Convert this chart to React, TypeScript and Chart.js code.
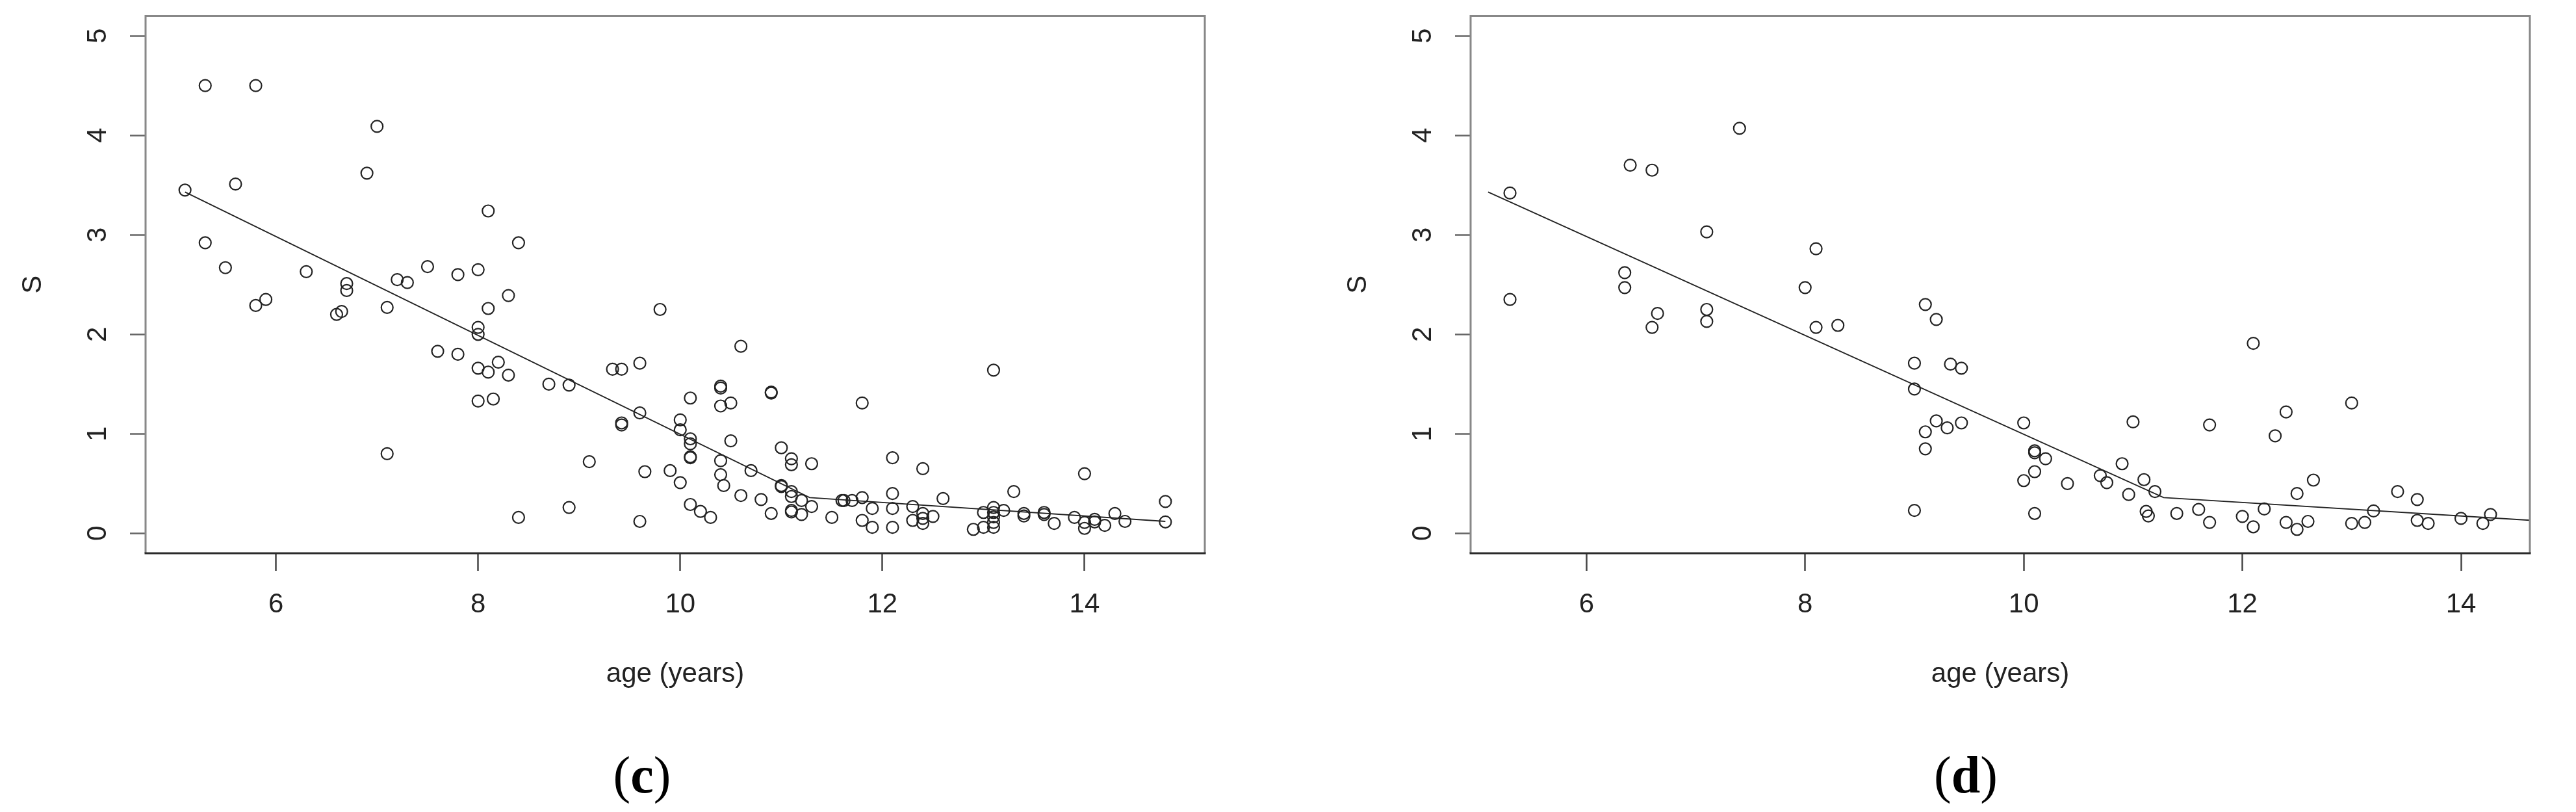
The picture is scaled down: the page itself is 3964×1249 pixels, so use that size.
import React, { useEffect, useRef } from "react";
import { Chart, registerables } from "chart.js";

Chart.register(...registerables);

// ---------- data ----------
// panel (c)
const cAge = [
  5.1, 5.3, 5.8, 7.0, 6.9, 5.6, 5.3, 5.5, 6.3, 6.7, 6.7, 7.2, 7.3, 7.5, 7.8, 8.0, 8.4, 8.1, 8.3, 8.1,
  8.0, 8.0, 5.9, 5.8, 6.6, 6.65, 7.1, 7.6, 7.8, 8.0, 8.1, 8.2, 8.3, 8.0, 8.15, 8.7, 8.9, 7.1, 8.4, 8.9,
  9.1, 9.33, 9.42, 9.6, 9.6, 9.42, 9.42, 9.65, 9.6, 9.8, 10.6, 13.1, 10.4, 10.4, 10.1, 10.4, 10.5, 10.9, 10.9, 11.8,
  10.0, 10.0, 10.1, 10.1, 10.1, 10.1, 10.5, 9.9, 10.0, 10.4, 10.7, 10.4, 10.43, 11.0, 11.1, 11.1, 11.3, 12.1, 12.4, 14.0,
  10.1, 10.2, 10.3, 10.6, 10.8, 10.9, 11.0, 11.0, 11.1, 11.1, 11.1, 11.1, 11.2, 11.2, 11.3, 11.5, 11.6, 11.62, 11.7, 11.8,
  11.8, 11.9, 11.9, 12.1, 12.1, 12.1, 12.3, 12.3, 12.4, 12.4, 12.4, 12.5, 12.6, 12.9, 13.0, 13.0, 13.1, 13.1, 13.1, 13.1,
  13.1, 13.2, 13.3, 13.4, 13.4, 13.6, 13.6, 13.7, 13.9, 14.0, 14.0, 14.1, 14.1, 14.2, 14.3, 14.4, 14.8, 14.8,
];
const cS = [
  3.45, 4.5, 4.5, 4.09, 3.62, 3.51, 2.92, 2.67, 2.63, 2.51, 2.44, 2.55, 2.52, 2.68, 2.6, 2.65, 2.92, 3.24, 2.39, 2.26,
  2.07, 2.0, 2.35, 2.29, 2.2, 2.23, 2.27, 1.83, 1.8, 1.66, 1.62, 1.72, 1.59, 1.33, 1.35, 1.5, 1.49, 0.8, 0.16, 0.26,
  0.72, 1.65, 1.65, 1.71, 1.21, 1.11, 1.09, 0.62, 0.12, 2.25, 1.88, 1.64, 1.48, 1.46, 1.36, 1.28, 1.31, 1.41, 1.42, 1.31,
  1.14, 1.04, 0.95, 0.9, 0.77, 0.76, 0.93, 0.63, 0.51, 0.73, 0.63, 0.59, 0.48, 0.86, 0.75, 0.69, 0.7, 0.76, 0.65, 0.6,
  0.29, 0.22, 0.16, 0.38, 0.34, 0.2, 0.48, 0.47, 0.42, 0.37, 0.23, 0.215, 0.19, 0.33, 0.27, 0.16, 0.33, 0.33, 0.33, 0.36,
  0.13, 0.25, 0.06, 0.4, 0.25, 0.06, 0.27, 0.13, 0.2, 0.15, 0.1, 0.17, 0.35, 0.04, 0.21, 0.06, 0.26, 0.21, 0.165, 0.11,
  0.06, 0.23, 0.42, 0.2, 0.175, 0.21, 0.19, 0.1, 0.16, 0.11, 0.05, 0.14, 0.115, 0.08, 0.2, 0.12, 0.32, 0.115,
];

// panel (d)
const dAge = [
  5.3, 5.3, 6.4, 6.6, 7.4, 7.1, 6.35, 6.35, 6.65, 6.6, 7.1, 7.1, 8.1, 8.0, 8.1, 8.3, 9.1, 9.2, 9.0, 9.0,
  9.33, 9.43, 9.2, 9.1, 9.3, 9.43, 9.1, 9.0, 10.0, 10.1, 10.1, 10.2, 10.1, 10.0, 10.1, 10.4, 10.7, 10.76, 10.9, 11.0,
  10.96, 11.1, 11.2, 11.12, 11.14, 11.4, 11.6, 11.7, 11.7, 12.1, 12.4, 12.3, 13.0, 12.65, 12.5, 12.0, 12.1, 12.2, 12.4, 12.5,
  12.6, 13.0, 13.12, 13.2, 13.42, 13.6, 13.6, 13.7, 14.0, 14.2, 14.27,
];
const dS = [
  3.42, 2.35, 3.7, 3.65, 4.07, 3.03, 2.62, 2.47, 2.21, 2.07, 2.25, 2.13, 2.86, 2.47, 2.07, 2.09, 2.3, 2.15, 1.71, 1.45,
  1.7, 1.66, 1.13, 1.02, 1.06, 1.11, 0.85, 0.23, 1.11, 0.83, 0.81, 0.75, 0.62, 0.53, 0.2, 0.5, 0.58, 0.51, 0.7, 1.12,
  0.39, 0.54, 0.42, 0.22, 0.175, 0.2, 0.24, 1.09, 0.11, 1.91, 1.22, 0.98, 1.31, 0.535, 0.4, 0.17, 0.066, 0.245, 0.11, 0.04,
  0.12, 0.1, 0.11, 0.225, 0.42, 0.34, 0.13, 0.1, 0.15, 0.1, 0.19,
];

// fitted segmented line (same in both panels)
const fitAge = [5.1, 11.28, 14.8];
const fitS = [3.43, 0.36, 0.12];

const xTickValues = [6, 8, 10, 12, 14];
const yTickValues = [0, 1, 2, 3, 4, 5];
const cXRange = [4.71, 15.19];
const dXRange = [4.94, 14.63];
const sRange = [-0.2, 5.2];

// ---------- layout ----------
const H = 1249;
const AXIS_LEFT = 224;
const PLOT_W = 1630;
const PLOT_TOP = 24.5;
const PLOT_BOTTOM = 851;
const FONT = '"Liberation Sans", Arial, sans-serif';
const FS = 42;

const boxPlugin = {
  id: "rbox",
  afterDraw(chart: any) {
    const { ctx, chartArea } = chart;
    const { left, top, right, bottom } = chartArea;
    ctx.save();
    ctx.lineWidth = 3;
    ctx.strokeStyle = "#888888";
    ctx.beginPath();
    ctx.moveTo(left, bottom);
    ctx.lineTo(left, top);
    ctx.lineTo(right, top);
    ctx.lineTo(right, bottom);
    ctx.stroke();
    ctx.strokeStyle = "#2a2a2a";
    ctx.beginPath();
    ctx.moveTo(left - 1.5, bottom);
    ctx.lineTo(right + 1.5, bottom);
    ctx.stroke();
    ctx.restore();
  },
};

function Panel(props: { ages: number[]; values: number[]; xRange: number[]; width: number; left: number }) {
  const ref = useRef<HTMLCanvasElement | null>(null);
  useEffect(() => {
    const { ages, values, xRange, width } = props;
    const chart = new Chart(ref.current as HTMLCanvasElement, {
      type: "scatter",
      data: {
        datasets: [
          {
            data: ages.map((a, i) => ({ x: a, y: values[i] })),
            pointRadius: 9,
            pointBorderWidth: 2.2,
            pointBorderColor: "#222222",
            pointBackgroundColor: "rgba(0,0,0,0)",
            showLine: false,
            order: 2,
          } as any,
          {
            data: fitAge.map((a, i) => ({ x: a, y: fitS[i] })),
            showLine: true,
            borderColor: "#222222",
            borderWidth: 1.8,
            pointRadius: 0,
            fill: false,
            order: 1,
          } as any,
        ],
      },
      options: {
        responsive: false,
        animation: false,
        events: [],
        layout: { padding: { left: 0, top: PLOT_TOP, right: width - AXIS_LEFT - PLOT_W, bottom: 0 } },
        plugins: { legend: { display: false }, tooltip: { enabled: false } },
        scales: {
          x: {
            type: "linear",
            min: xRange[0],
            max: xRange[1],
            afterBuildTicks: (s: any) => {
              s.ticks = xTickValues.map((v) => ({ value: v }));
            },
            afterFit: (s: any) => {
              s.height = H - PLOT_BOTTOM;
              s.paddingLeft = 0;
              s.paddingRight = 0;
            },
            border: { display: false },
            grid: {
              display: true,
              drawOnChartArea: false,
              drawTicks: true,
              tickLength: 27,
              tickWidth: 2.5,
              tickColor: "#444444",
            },
            ticks: {
              autoSkip: false,
              maxRotation: 0,
              minRotation: 0,
              padding: 26.8,
              color: "#222222",
              font: { family: FONT, size: FS },
            },
            title: {
              display: true,
              text: "age (years)",
              color: "#222222",
              font: { family: FONT, size: FS },
              padding: { top: 0, bottom: 186.8 },
            },
          },
          y: {
            type: "linear",
            min: sRange[0],
            max: sRange[1],
            afterBuildTicks: (s: any) => {
              s.ticks = yTickValues.map((v) => ({ value: v }));
            },
            afterFit: (s: any) => {
              s.width = AXIS_LEFT;
              s.paddingTop = 0;
              s.paddingBottom = 0;
            },
            border: { display: false },
            grid: {
              display: true,
              drawOnChartArea: false,
              drawTicks: true,
              tickLength: 24,
              tickWidth: 2.5,
              tickColor: "#666666",
            },
            ticks: {
              autoSkip: false,
              minRotation: 90,
              maxRotation: 90,
              crossAlign: "center",
              padding: 37.3,
              color: "#222222",
              font: { family: FONT, size: FS },
            },
            title: {
              display: true,
              text: "S",
              color: "#222222",
              font: { family: FONT, size: FS },
              padding: { top: 25.8, bottom: 0 },
            },
          },
        },
      } as any,
      plugins: [boxPlugin],
    });
    return () => chart.destroy();
  }, []);
  return (
    <canvas
      ref={ref}
      width={props.width}
      height={H}
      style={{ position: "absolute", left: props.left, top: 0, width: props.width, height: H }}
    />
  );
}

function PanelLabel(props: { letter: string; x: number; y: number }) {
  return (
    <div
      style={{
        position: "absolute",
        left: props.x,
        top: props.y,
        transform: "translate(-50%, -50%)",
        fontFamily: '"Liberation Serif", "Times New Roman", serif',
        fontSize: 80,
        lineHeight: 1,
        color: "#000",
        whiteSpace: "nowrap",
      }}
    >
      (<b>{props.letter}</b>)
    </div>
  );
}

export default function App() {
  return (
    <div
      style={{
        position: "absolute",
        left: 0,
        top: 0,
        width: 3964,
        height: H,
        background: "#ffffff",
        overflow: "hidden",
      }}
    >
      <Panel ages={cAge} values={cS} xRange={cXRange} width={2039} left={0} />
      <Panel ages={dAge} values={dS} xRange={dXRange} width={1925} left={2039} />
      <PanelLabel letter="c" x={988} y={1192} />
      <PanelLabel letter="d" x={3025} y={1192} />
    </div>
  );
}
